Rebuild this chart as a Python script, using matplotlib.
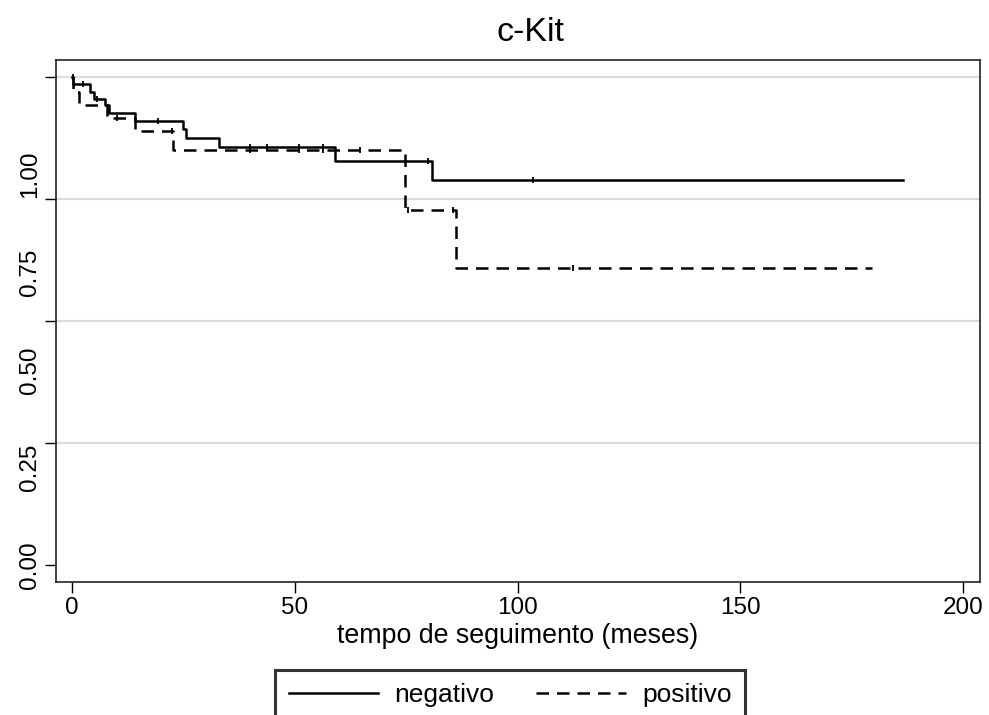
import matplotlib
matplotlib.use('Agg')
import matplotlib.pyplot as plt
import numpy as np

plt.rcParams['font.family'] = ['Liberation Sans', 'DejaVu Sans']

# Kaplan-Meier estimates
neg_times = [0, 0.3, 4.0, 5.0, 7.5, 8.2, 14.1, 24.9, 25.5, 33.0, 59.0, 80.8, 186.5]
neg_surv = [1.0, 0.986, 0.969, 0.955, 0.943, 0.926, 0.910, 0.893, 0.875, 0.857, 0.828, 0.789, 0.789]
neg_censored = [0.5, 2.5, 5.5, 19.3, 40.0, 43.7, 51.0, 56.4, 80.0, 103.5]

pos_times = [0, 0.3, 1.6, 7.9, 14.1, 22.7, 74.7, 86.2, 179.5]
pos_surv = [1.0, 0.969, 0.943, 0.916, 0.889, 0.850, 0.727, 0.609, 0.609]
pos_censored = [0.2, 10.0, 22.5, 40.0, 51.0, 56.4, 64.6, 75.5, 85.5, 112.5]

x_ticks = [0, 50, 100, 150, 200]
y_ticks = [0, 0.25, 0.5, 0.75, 1.0]
y_tick_labels = ["0.00", "0.25", "0.50", "0.75", "1.00"]


def surv_at(times, surv, t):
    i = np.searchsorted(times, t, side='right') - 1
    return np.asarray(surv)[i]


fig = plt.figure(figsize=(9.89, 7.15), dpi=100)
ax = fig.add_axes([56 / 989, 1 - 582 / 715, 924 / 989, 522 / 715])

# grid lines (Stata style, light grey, none at 0)
for y in y_ticks[1:]:
    ax.axhline(y, color='#dcdcdc', lw=1.6, zorder=0)

l_neg, = ax.step(neg_times, neg_surv, where='post', color='black', lw=1.8,
                 label='negativo')
l_pos, = ax.step(pos_times, pos_surv, where='post', color='black', lw=1.8,
                 linestyle=(0, (5, 3.2)), label='positivo')

# censoring marks
ax.plot(neg_censored, surv_at(neg_times, neg_surv, neg_censored), ls='none',
        marker='|', color='black', ms=5, mew=1.3)
ax.plot(pos_censored, surv_at(pos_times, pos_surv, pos_censored), ls='none',
        marker='|', color='black', ms=5, mew=1.3)

ax.set_xlim(-3.6, 203.8)
ax.set_ylim(-0.035, 1.035)

ax.set_xticks(x_ticks)
ax.tick_params(axis='x', length=8, width=1, labelsize=17.5, pad=3)

# major y ticks without labels, labels drawn as minor ticks (as in the original)
ax.yaxis.remove_overlapping_locs = False
ax.set_yticks(y_ticks)
ax.set_yticklabels([])
ax.tick_params(axis='y', which='major', length=8, width=1)
ax.set_yticks([0, 0.2, 0.4, 0.6, 0.8], minor=True)
ax.set_yticklabels(y_tick_labels, minor=True, rotation=90, va='center')
ax.tick_params(axis='y', which='minor', length=0, labelsize=17.5, pad=11)

for s in ax.spines.values():
    s.set_color('#222222')
    s.set_linewidth(1.2)

ax.set_xlabel('tempo de seguimento (meses)', fontsize=19.3, labelpad=3)
ax.set_title('c-Kit', fontsize=24.5, pad=14, x=0.514)

leg = fig.legend(handles=[l_neg, l_pos], loc='upper center', ncol=2,
                 bbox_to_anchor=(510 / 989, 1 - 670 / 715),
                 fontsize=19, frameon=True, fancybox=False,
                 handlelength=3.4, handletextpad=0.6, columnspacing=1.6,
                 borderpad=0.5, borderaxespad=0)
leg.get_frame().set_edgecolor('black')
leg.get_frame().set_linewidth(2.2)

plt.savefig('out.png', dpi=100)
